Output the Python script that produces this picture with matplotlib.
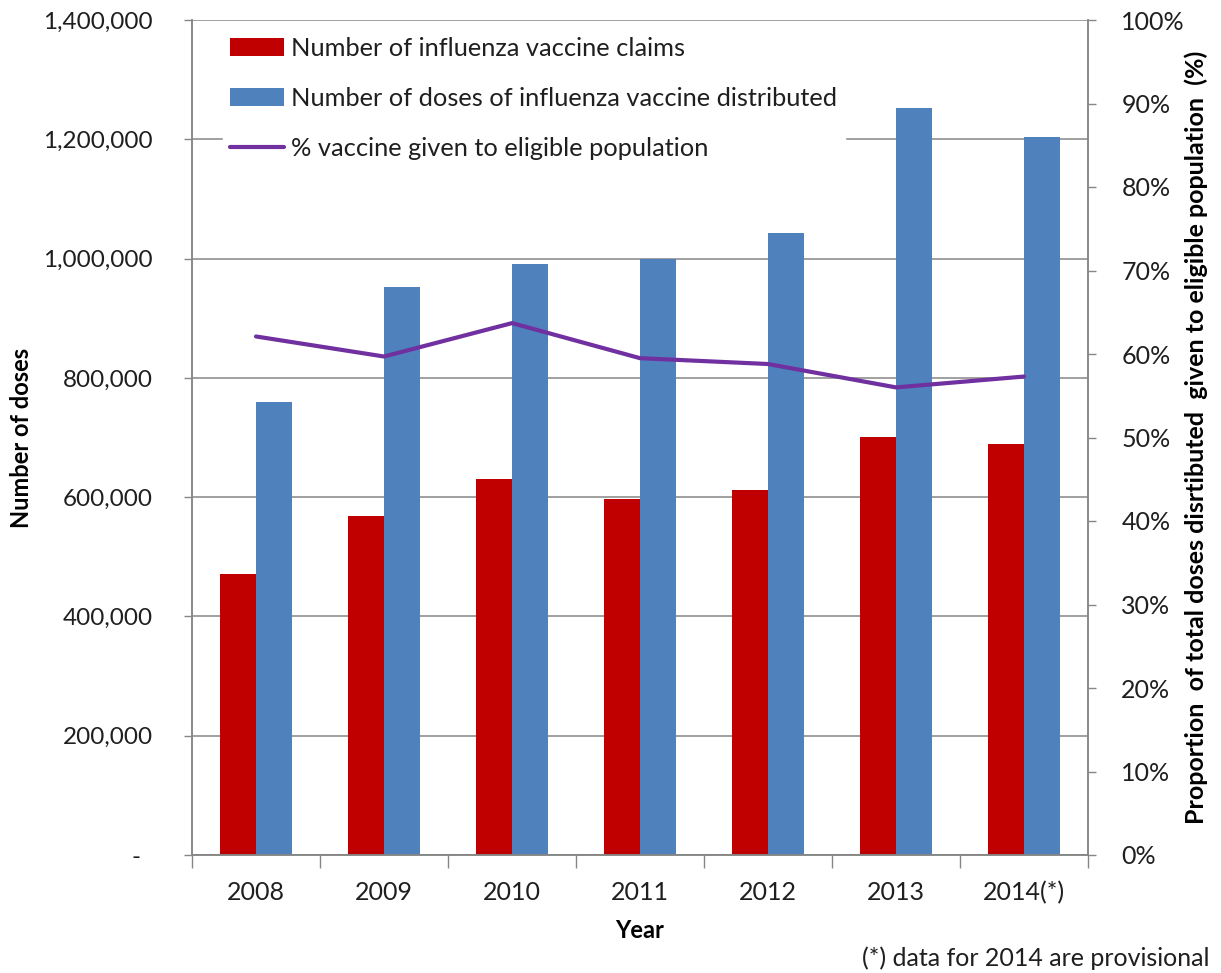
import matplotlib
matplotlib.use("Agg")
import matplotlib.pyplot as plt
from matplotlib.patches import Patch
from matplotlib.lines import Line2D
from matplotlib.ticker import FixedLocator, FuncFormatter, NullFormatter
import numpy as np

years = ["2008", "2009", "2010", "2011", "2012", "2013", "2014(*)"]
claims = [471000, 568000, 630000, 597000, 612000, 701000, 689000]
distributed = [759000, 952000, 991000, 1000000, 1043000, 1252000, 1204000]
pct_given = [62.1, 59.7, 63.7, 59.5, 58.8, 56.0, 57.3]

RED = "#C00000"
BLUE = "#4F81BD"
PURPLE = "#7030A0"
GRID = "#868686"
TXT = "#1f1f1f"
FONT = "Lato"

plt.rcParams["font.family"] = [FONT, "DejaVu Sans"]

fig = plt.figure(figsize=(12.21, 9.73), dpi=100)
ax = fig.add_axes([192/1221, 1-855/973, (1088-192)/1221, (855-20)/973])
ax2 = ax.twinx()

x = np.arange(len(years))
w = 0.28
ax.bar(x - w/2, claims, width=w, color=RED, zorder=2)
ax.bar(x + w/2, distributed, width=w, color=BLUE, zorder=2)
ax2.plot(x, pct_given, color=PURPLE, lw=3.0, solid_joinstyle="round", solid_capstyle="round", zorder=3)

ax.set_xlim(-0.5, len(years) - 0.5)
ax.set_ylim(0, 1400000)
ax2.set_ylim(0, 100)

# left axis ticks
ax.set_yticks(np.arange(0, 1400001, 200000))
ax.yaxis.set_major_formatter(FuncFormatter(lambda v, p: "-  " if v == 0 else f"{int(v):,}"))
ax.tick_params(axis="y", direction="out", length=6, width=1, color=GRID, pad=22, labelsize=17.5, labelcolor=TXT)
ax.yaxis.grid(True, color=GRID, lw=1.1, zorder=0)
ax.set_axisbelow(True)

# x axis: ticks at boundaries, labels at centers
ax.xaxis.set_major_locator(FixedLocator(np.arange(-0.5, len(years), 1.0)))
ax.xaxis.set_major_formatter(NullFormatter())
ax.xaxis.set_minor_locator(FixedLocator(x))
ax.set_xticklabels(years, minor=True)
ax.tick_params(axis="x", which="major", direction="out", length=9, width=1, color=GRID)
ax.tick_params(axis="x", which="minor", length=0, pad=19, labelsize=18, labelcolor=TXT)

# right axis
ax2.set_yticks(np.arange(0, 101, 10))
ax2.yaxis.set_major_formatter(FuncFormatter(lambda v, p: f"{int(v)}%"))
ax2.tick_params(axis="y", direction="out", length=6, width=1, color=GRID, pad=18, labelsize=18, labelcolor=TXT)

for a in (ax, ax2):
    a.spines["top"].set_visible(False)
    for s in ("left", "right", "bottom"):
        a.spines[s].set_color(GRID)
        a.spines[s].set_linewidth(1.1)

ax.set_ylabel("Number of doses", fontsize=17, fontweight="bold", color="black")
ax.yaxis.set_label_coords(-0.1775, 0.5)
ax2.set_ylabel("Proportion  of total doses disrtibuted  given to eligible population  (%)",
               fontsize=18, fontweight="bold", color="black")
ax2.yaxis.set_label_coords(1.108, 0.5)
ax.set_xlabel("Year", fontsize=17, fontweight="bold", color="black")
ax.xaxis.set_label_coords(0.5, -0.077)

handles = [Patch(facecolor=RED, edgecolor="none"),
           Patch(facecolor=BLUE, edgecolor="none"),
           Line2D([0], [0], color=PURPLE, lw=3.0, solid_capstyle="round")]
labels = ["Number of influenza vaccine claims",
          "Number of doses of influenza vaccine distributed",
          "% vaccine given to eligible population"]
leg = ax2.legend(handles, labels, loc="upper left", bbox_to_anchor=(0.02, 1.004),
                 frameon=True, fancybox=False, facecolor="white", edgecolor="white",
                 framealpha=1, fontsize=18.3, handlelength=2.1, handleheight=0.75,
                 handletextpad=0.3, labelspacing=1.06, borderpad=0.3)
for t in leg.get_texts():
    t.set_color(TXT)

fig.text(1210/1221, 1-958/973, "(*) data for 2014 are provisional", ha="right", va="center",
         fontsize=18, color=TXT)

fig.savefig("out.png", dpi=100)
